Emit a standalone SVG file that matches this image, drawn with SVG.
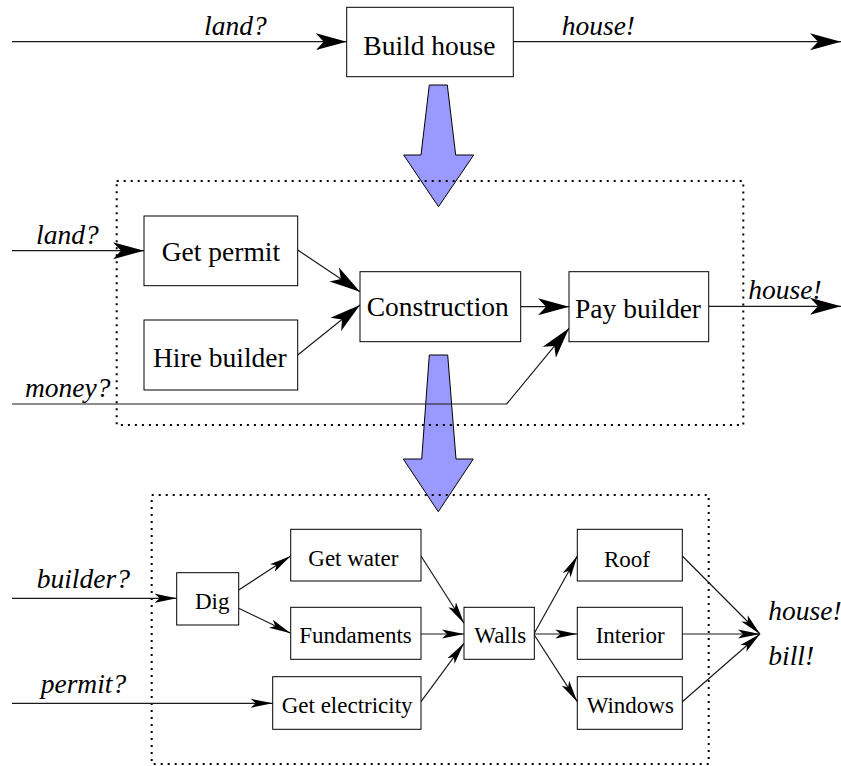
<svg xmlns="http://www.w3.org/2000/svg" width="841" height="766" viewBox="0 0 841 766">
  <style>
    .box { fill: #ffffff; stroke: #000000; stroke-width: 1; }
    .frame { fill: none; stroke: #000000; stroke-width: 2; stroke-dasharray: 2 5; }
    .refine { fill: #9999ff; stroke: #000000; stroke-width: 1; }
    .wire { fill: none; stroke: #1a1a1a; stroke-width: 1.2; }
    .big { marker-end: url(#headBig); }
    .small { marker-end: url(#headSmall); }
    text { font-family: 'Liberation Serif', Tinos, 'Times New Roman', 'DejaVu Serif', serif; fill: #000; }
    .lbl { font-size: 27.5px; }
    .lblS { font-size: 23px; }
    .io { font-size: 27.5px; font-style: italic; }
  </style>
  <defs>
    <marker id="headBig" markerUnits="userSpaceOnUse" viewBox="0 0 32 18" markerWidth="32" markerHeight="18" refX="31" refY="9" orient="auto">
      <path d="M0,0.5 L31,9 L0,17.5 L8,9 Z" fill="#000"/>
    </marker>
    <marker id="headSmall" markerUnits="userSpaceOnUse" viewBox="0 0 22 10" markerWidth="22" markerHeight="10" refX="22" refY="5" orient="auto">
      <path d="M0,0.5 L22,5 L0,9.5 L5,5 Z" fill="#000"/>
    </marker>
  </defs>

  <!-- refinement arrows (drawn underneath) -->
  <g id="refine-1">
    <polygon class="refine" points="429.3,85 447.3,85 455.7,155 473.7,155 438.5,206.7 403.7,155 421,155"/>
  </g>
  <g id="refine-2">
    <polygon class="refine" points="429.3,355 447.7,355 456,459 473.3,459 438.3,511.7 403.3,459 421.7,459"/>
  </g>

  <!-- dotted decomposition frames -->
  <g id="frame-level2">
    <rect class="frame" x="116.7" y="181" width="626.6" height="244"/>
  </g>
  <g id="frame-level3">
    <rect class="frame" x="151.7" y="495" width="557" height="269"/>
  </g>

  <!-- connectors -->
  <g id="connectors">
    <!-- level 1 -->
    <line class="wire big" x1="12" y1="41.7" x2="346.7" y2="41.7"/>
    <line class="wire big" x1="513.3" y1="41.7" x2="841" y2="41.7"/>
    <!-- level 2 -->
    <line class="wire big" x1="12" y1="250.7" x2="144" y2="250.7"/>
    <line class="wire big" x1="297.7" y1="250" x2="360" y2="291.7"/>
    <line class="wire big" x1="297.7" y1="355" x2="360" y2="305"/>
    <line class="wire big" x1="520.7" y1="306.7" x2="569" y2="306.7"/>
    <polyline class="wire big" points="12,404 506.7,404 569,328.3"/>
    <line class="wire big" x1="708.7" y1="306.3" x2="841" y2="306.3"/>
    <!-- level 3 -->
    <line class="wire small" x1="12" y1="598.3" x2="176.7" y2="598.3"/>
    <line class="wire small" x1="12" y1="703.3" x2="272.7" y2="703.3"/>
    <line class="wire small" x1="238.7" y1="590" x2="290.7" y2="556"/>
    <line class="wire small" x1="238.7" y1="608.3" x2="290.7" y2="633.3"/>
    <line class="wire small" x1="421" y1="556" x2="464" y2="623.3"/>
    <line class="wire small" x1="421" y1="634" x2="464" y2="634"/>
    <line class="wire small" x1="421" y1="701.7" x2="464" y2="643.3"/>
    <line class="wire small" x1="534.3" y1="633.3" x2="577.3" y2="556"/>
    <line class="wire small" x1="534.3" y1="634" x2="577.3" y2="634"/>
    <line class="wire small" x1="534.3" y1="635" x2="577.3" y2="701.7"/>
    <line class="wire small" x1="682.3" y1="556" x2="760" y2="634"/>
    <line class="wire small" x1="682.3" y1="634" x2="760" y2="634"/>
    <line class="wire small" x1="682.3" y1="701.7" x2="760" y2="634"/>
  </g>

  <!-- port labels -->
  <g id="labels">
    <text class="io" x="204" y="35">land?</text>
    <text class="io" x="561.7" y="35">house!</text>
    <text class="io" x="36" y="244">land?</text>
    <text class="io" x="25" y="396.7">money?</text>
    <text class="io" x="748.3" y="299.3">house!</text>
    <text class="io" x="36.7" y="588.3">builder?</text>
    <text class="io" x="40.7" y="693.3">permit?</text>
    <text class="io" x="768.3" y="620">house!</text>
    <text class="io" x="768.3" y="665">bill!</text>
  </g>

  <!-- level 1 -->
  <g id="build-house">
    <rect class="box" x="346.7" y="7.3" width="166.6" height="69.4"/>
    <text class="lbl" x="363.3" y="55">Build house</text>
  </g>

  <!-- level 2 -->
  <g id="get-permit">
    <rect class="box" x="144" y="216" width="153.7" height="69.7"/>
    <text class="lbl" x="161.7" y="260.7">Get permit</text>
  </g>
  <g id="hire-builder">
    <rect class="box" x="144" y="320" width="153.7" height="70"/>
    <text class="lbl" x="153" y="367.3">Hire builder</text>
  </g>
  <g id="construction">
    <rect class="box" x="360" y="271.7" width="160.7" height="70"/>
    <text class="lbl" x="366.7" y="315.7">Construction</text>
  </g>
  <g id="pay-builder">
    <rect class="box" x="569" y="271.7" width="139.7" height="70"/>
    <text class="lbl" x="575" y="318.3">Pay builder</text>
  </g>

  <!-- level 3 -->
  <g id="dig">
    <rect class="box" x="176.7" y="572.7" width="62" height="52.3"/>
    <text class="lblS" x="195" y="609.3">Dig</text>
  </g>
  <g id="get-water">
    <rect class="box" x="290.7" y="529.3" width="130.3" height="51.7"/>
    <text class="lblS" x="308.3" y="566">Get water</text>
  </g>
  <g id="fundaments">
    <rect class="box" x="290.7" y="607.3" width="130.3" height="52"/>
    <text class="lblS" x="299.3" y="643.3">Fundaments</text>
  </g>
  <g id="get-electricity">
    <rect class="box" x="272.7" y="676.7" width="148.3" height="52.6"/>
    <text class="lblS" x="281.7" y="713.3">Get electricity</text>
  </g>
  <g id="walls">
    <rect class="box" x="464" y="607.3" width="70.3" height="52"/>
    <text class="lblS" x="474.3" y="643.3">Walls</text>
  </g>
  <g id="roof">
    <rect class="box" x="577.3" y="529.3" width="105" height="51.7"/>
    <text class="lblS" x="604" y="566.7">Roof</text>
  </g>
  <g id="interior">
    <rect class="box" x="577.3" y="607.3" width="105" height="52"/>
    <text class="lblS" x="595.7" y="643.3">Interior</text>
  </g>
  <g id="windows">
    <rect class="box" x="577.3" y="676.7" width="105" height="52.6"/>
    <text class="lblS" x="586.7" y="713.3">Windows</text>
  </g>
</svg>
